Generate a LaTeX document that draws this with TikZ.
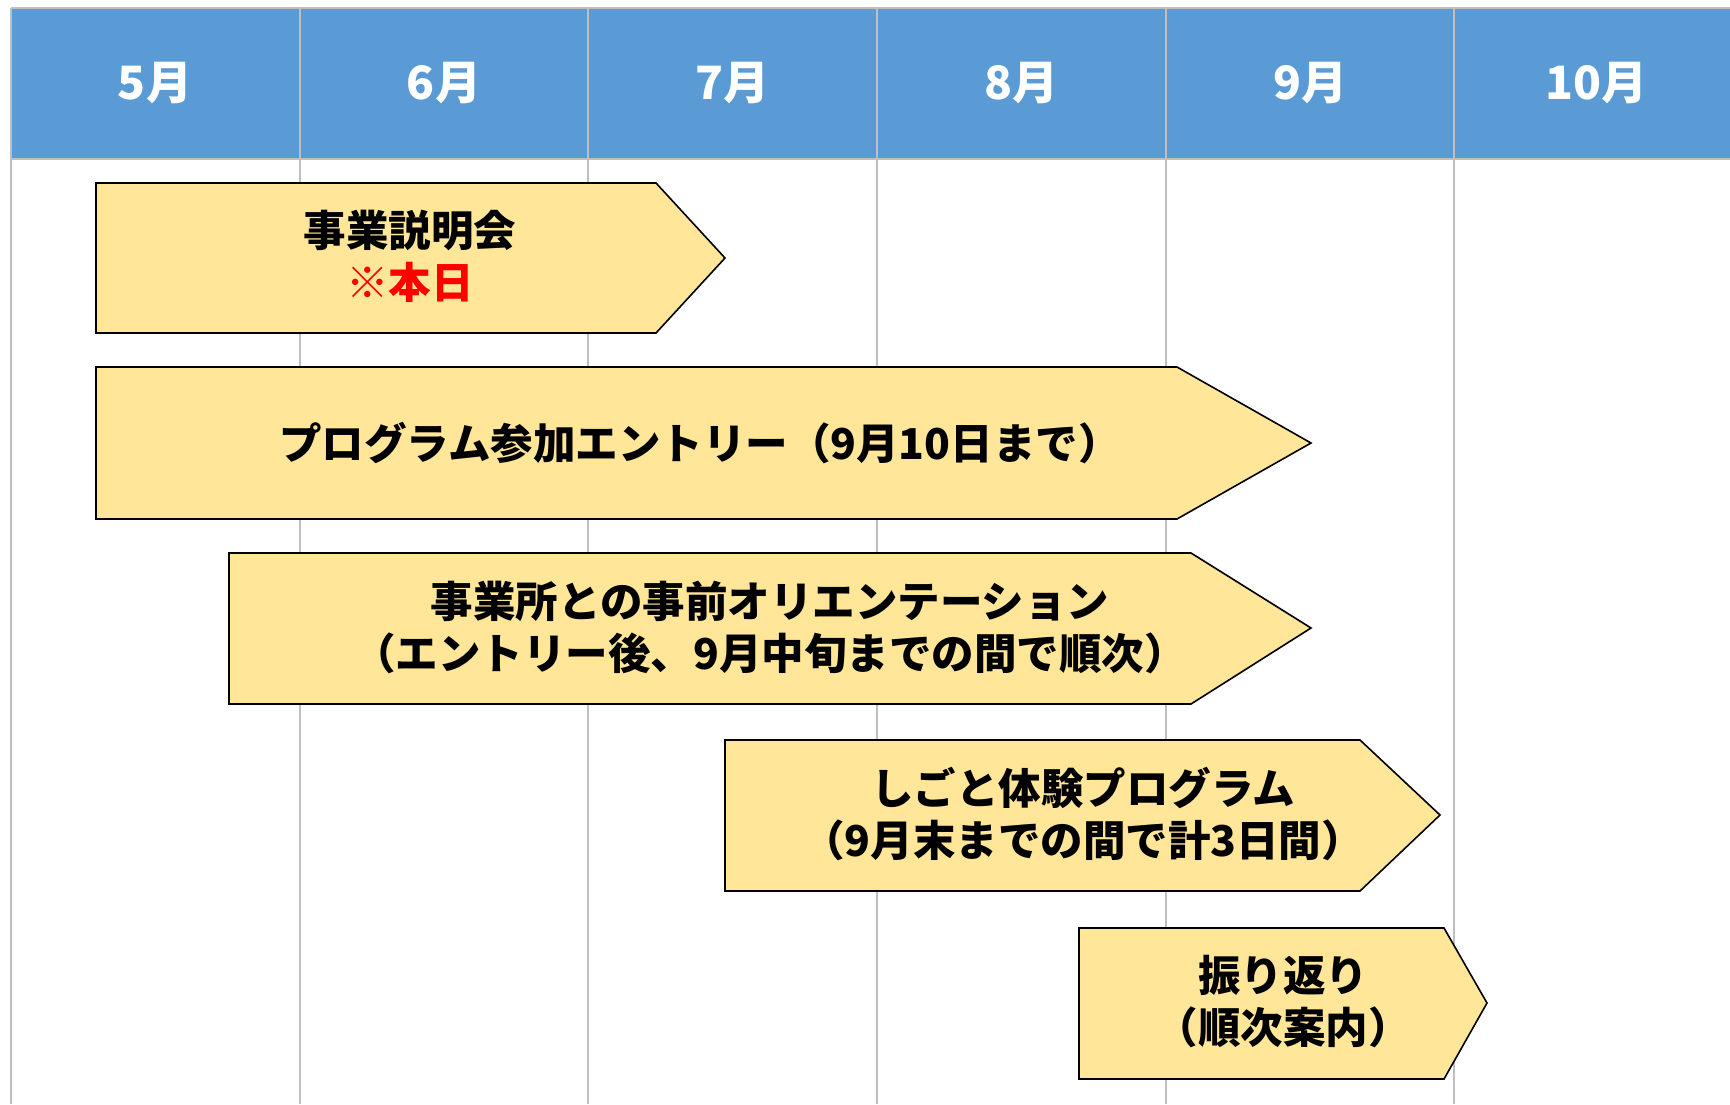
\documentclass[tikz,border=0pt]{standalone}
\usepackage{fontspec}
\setmainfont{Noto Sans CJK JP}
\definecolor{hdr}{HTML}{5B9BD5}
\definecolor{gridc}{HTML}{BFBFBF}
\definecolor{barc}{HTML}{FFE699}
\definecolor{redc}{HTML}{FF0000}
\begin{document}
\begin{tikzpicture}[x=1pt,y=-1pt,
  gridline/.style={draw=gridc,line width=2pt},
  barshape/.style={draw=black,fill=barc,line width=1.6pt,line join=miter},
  month/.style={text=white,font=\fontsize{46}{52}\selectfont\bfseries,inner sep=0pt},
  bartext/.style={text=black,font=\fontsize{42.5}{52}\selectfont\bfseries,align=center,inner sep=0pt}]
\useasboundingbox (0,0) rectangle (1730,1104);
\fill[white] (0,0) rectangle (1730,1104);
\fill[hdr] (11,8) rectangle (1730,159);
\foreach \x in {11,300,588,877,1166,1454} \draw[gridline] (\x,8) -- (\x,1104);
\draw[gridline] (11,8) -- (1730,8);
\draw[gridline] (11,159) -- (1730,159);
\node[month] (m5) at (155,83) {5月};
\node[month] (m6) at (444,83) {6月};
\node[month] (m7) at (732,83) {7月};
\node[month] (m8) at (1021,83) {8月};
\node[month] (m9) at (1310,83) {9月};
\node[month] (m10) at (1596,83) {10月};
% bars
\draw[barshape] (96,183) -- (656,183) -- (725,258) -- (656,333) -- (96,333) -- cycle;
\node[bartext] (b1) at (410,256) {事業説明会\\\textcolor{redc}{※本日}};
\draw[barshape] (96,367) -- (1177,367) -- (1311,443) -- (1177,519) -- (96,519) -- cycle;
\node[bartext] (b2) at (700,443) {プログラム参加エントリー（9月10日まで）};
\draw[barshape] (229,553) -- (1191,553) -- (1311,628) -- (1191,704) -- (229,704) -- cycle;
\node[bartext] (b3) at (770,627) {事業所との事前オリエンテーション\\（エントリー後、9月中旬までの間で順次）};
\draw[barshape] (725,740) -- (1360,740) -- (1440,815) -- (1360,891) -- (725,891) -- cycle;
\node[bartext] (b4) at (1083,814) {しごと体験プログラム\\（9月末までの間で計3日間）};
\draw[barshape] (1079,928) -- (1444,928) -- (1487,1003) -- (1444,1079) -- (1079,1079) -- cycle;
\node[bartext] (b5) at (1283,1002) {振り返り\\（順次案内）};
\end{tikzpicture}
\end{document}
